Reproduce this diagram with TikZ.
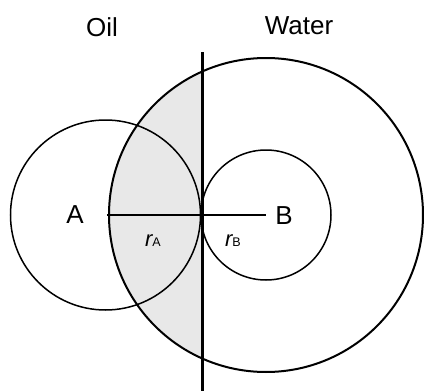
\documentclass[tikz,border=0pt]{standalone}
\usepackage{fontspec}
\setmainfont{Liberation Sans}
\definecolor{oilshade}{rgb}{0.91, 0.91, 0.91}
\usetikzlibrary{positioning}

\tikzset{
  ring/.style={draw=black, line width=1.5},
  bigring/.style={draw=black, line width=2.0},
  bigtxt/.style={inner sep=0pt, font=\fontsize{26}{26}\selectfont},
  ctrtxt/.style={inner sep=0pt, font=\fontsize{26}{26}\selectfont},
}
\newcommand{\radlbl}[1]{{\fontsize{22}{22}\selectfont\itshape r}{\fontsize{12.5}{12.5}\selectfont #1}}

\begin{document}
\begin{tikzpicture}[x=1pt,y=1pt,yscale=-1,xscale=1]
	\useasboundingbox (0,0) rectangle (424,391);
	
	% centres and the interface
	\coordinate (A) at (107,215);
	\coordinate (B) at (266,215);
	\coordinate (C) at (202,215);
	\coordinate (top) at (202,52);
	\coordinate (bot) at (202,391);
	
	% shaded cap of the big circle on the oil side
	\begin{scope}
		\clip (0,0) rectangle (C |- bot);
		\fill [oilshade] (B) circle (157pt);
	\end{scope}
	
	% Circles
	\draw [ring] (105.5,215) circle (95pt);
	\draw [ring] (B) circle (65pt);
	\draw [bigring] (B) circle (157pt);
	
	% Straight Lines
	\draw [line width=1.5] (A) -- (B);
	\draw [line width=3] (top) -- (bot);
	
	% Text Node
	\node [bigtxt] (oil) at (102,27) {Oil};
	% Text Node
	\node [bigtxt] (water) at (299,26) {Water};
	% Text Node
	\node [ctrtxt] (alab) at (75,215) {A};
	% Text Node
	\node [ctrtxt] (blab) at (284,216) {B};
	% Text Node
	\node [inner sep=0pt, anchor=base] (ra) at (153,246) {\radlbl{A}};
	% Text Node
	\node [inner sep=0pt, anchor=base] (rb) at (233,246) {\radlbl{B}};
	
\end{tikzpicture}
\end{document}
